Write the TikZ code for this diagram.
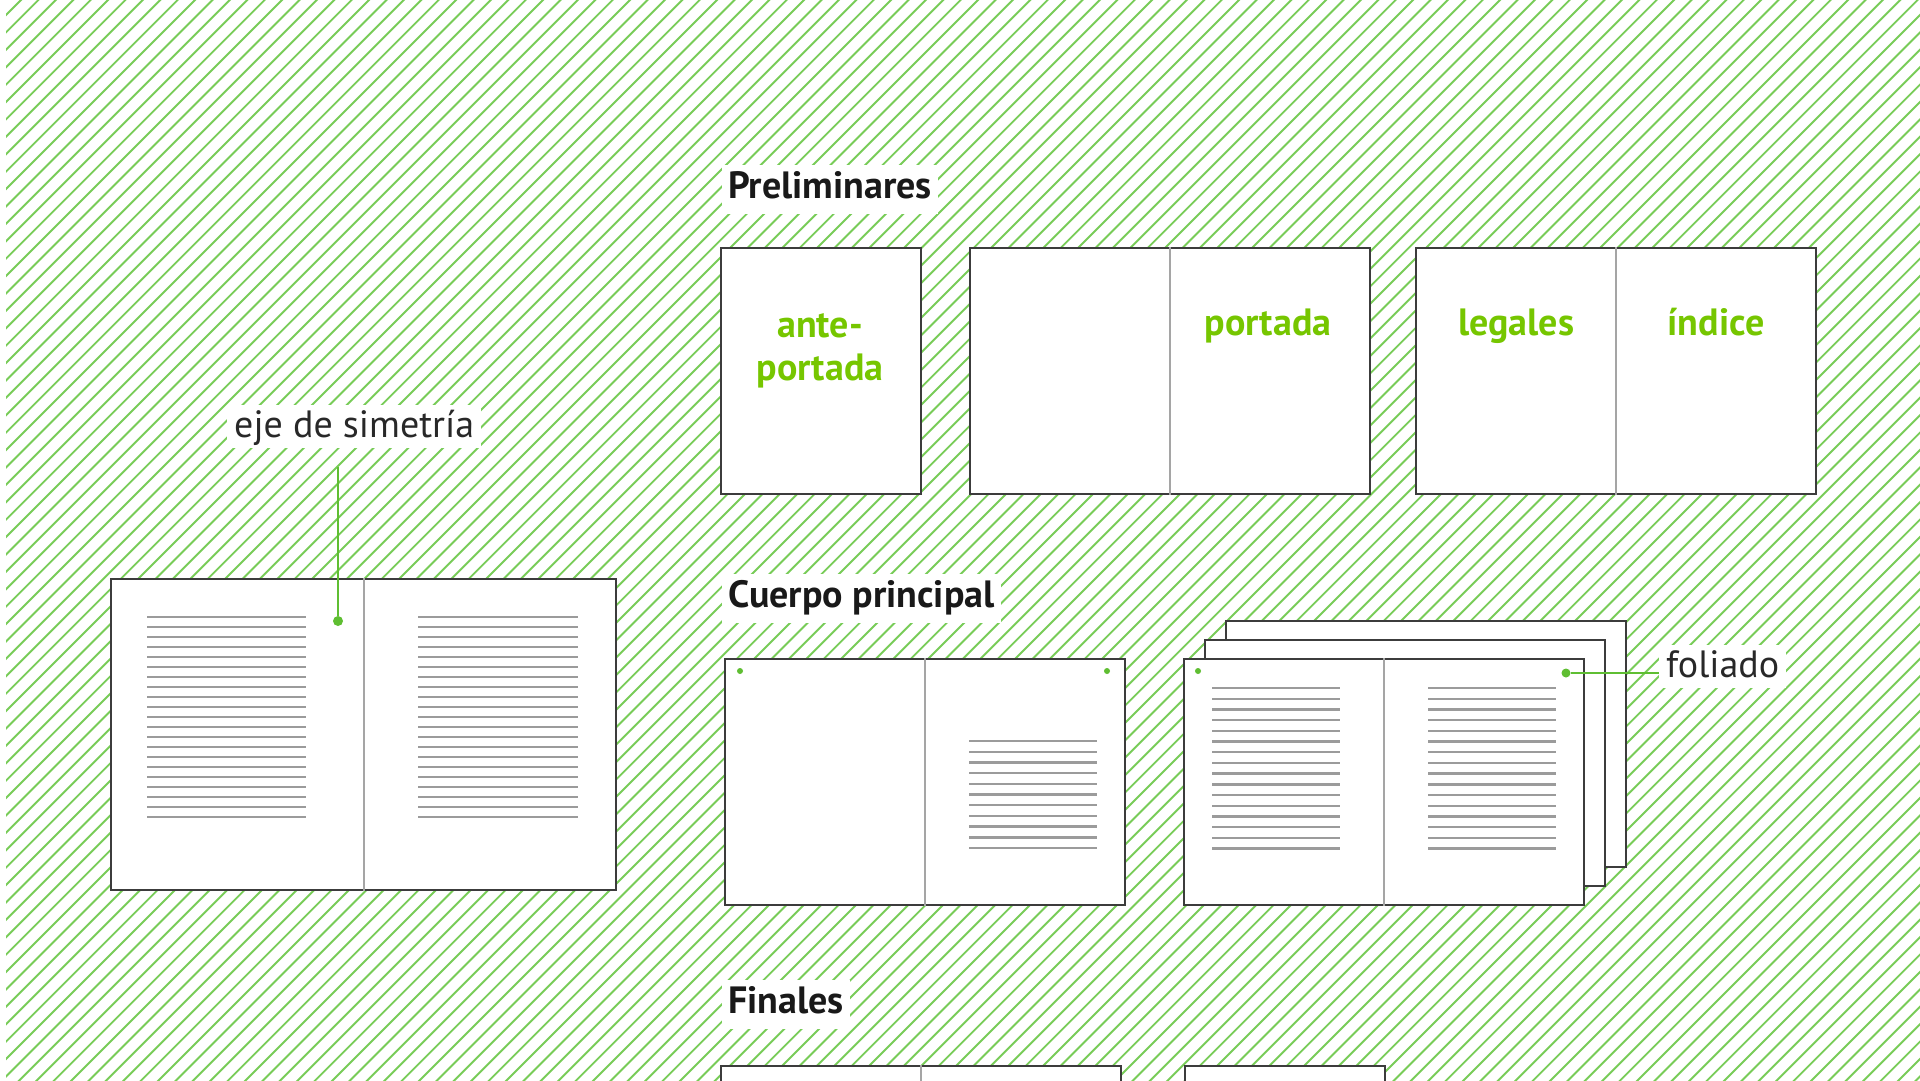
\documentclass[tikz,border=0pt]{standalone}
\usepackage{fontspec}
\setmainfont{PT Sans}
\definecolor{hatch}{RGB}{120,204,88}
\definecolor{lime}{RGB}{118,198,0}
\definecolor{leader}{RGB}{95,190,50}
\definecolor{border}{RGB}{60,60,60}
\definecolor{gutter}{RGB}{165,165,165}
\definecolor{textrule}{RGB}{155,155,155}
\definecolor{ink}{RGB}{25,25,25}
\definecolor{soft}{RGB}{40,40,40}
\begin{document}
\begin{tikzpicture}[x=1pt,y=-1pt,
  sheet/.style={draw=border, line width=2pt, fill=white, anchor=north west, inner sep=0pt, minimum width=#1, minimum height=246pt},
  gutterline/.style={draw=gutter, line width=2pt},
  ruleline/.style={draw=textrule, line width=2.4pt},
  hatchline/.style={draw=hatch, line width=1.9pt},
  leaderline/.style={draw=leader, line width=2pt},
  dotnode/.style={circle, fill=leader, inner sep=0pt, minimum size=#1},
  title/.style={fill=white, text=ink, font=\fontsize{38}{42}\selectfont\bfseries, anchor=base west, inner xsep=6pt, inner ysep=8pt, text height=25pt, text depth=8pt},
  note/.style={fill=white, text=soft, font=\fontsize{38}{42}\selectfont, anchor=base west, inner xsep=7pt, inner ysep=6pt, text height=26pt, text depth=5pt},
  greenlbl/.style={text=lime, font=\fontsize{38}{42}\selectfont\bfseries, anchor=base, inner sep=0pt}
]
\useasboundingbox (0,0) rectangle (1920,1080);
\clip (0,0) rectangle (1920,1080);
\fill[white] (0,0) rectangle (1920,1080);
% background hatch
\begin{scope}
  \clip (6,0) rectangle (1920,1080);
  \foreach \k in {-1,...,175} {
    \draw[hatchline] ({21+17.4*\k-1100},1100) -- ({21+17.4*\k+20},-20);
  }
\end{scope}

% ---------- Preliminares ----------
\node[title] (tprel) at (722,198) {Preliminares};
\node[sheet=200pt] (ante) at (720,247) {};
\node[greenlbl] (lante) at (820,337) {ante-};
\node[greenlbl] (lporta) at (820,380) {portada};

\node[sheet=400pt] (port) at (969,247) {};
\draw[gutterline] (port.north) -- (port.south);
\node[greenlbl] (lportada) at (1268,335) {portada};

\node[sheet=400pt] (legi) at (1415,247) {};
\draw[gutterline] (legi.north) -- (legi.south);
\node[greenlbl] (llegales) at (1516,335) {legales};
\node[greenlbl] (lindice) at (1716,335) {índice};

% ---------- big spread ----------
\node[sheet=505pt, minimum height=311pt] (big) at (110,578) {};
\draw[gutterline] (big.north) -- (big.south);
\foreach \i in {0,...,20} {
  \draw[ruleline] (147,{617+10*\i}) -- (306,{617+10*\i});
  \draw[ruleline] (418,{617+10*\i}) -- (578,{617+10*\i});
}
\node[note] (eje) at (227,437) {eje de simetría};
\coordinate (ejetop) at (338,467);
\node[dotnode=10pt] (ejedot) at (338,621) {};
\draw[leaderline] (ejetop) -- (ejedot);

% ---------- Cuerpo principal ----------
\node[title] (tcuerpo) at (722,607) {Cuerpo principal};
\node[sheet=400pt] (spa) at (724,658) {};
\draw[gutterline] (spa.north) -- (spa.south);
\foreach \i in {0,...,10} {
  \draw[ruleline] (969,{741+10.7*\i}) -- (1097,{741+10.7*\i});
}
\node[dotnode=6pt] (spadl) at (740,671) {};
\node[dotnode=6pt] (spadr) at (1107,671) {};

% stacked spreads
\node[sheet=400pt] (stc) at (1225,620) {};
\node[sheet=400pt] (stb) at (1204,639) {};
\node[sheet=400pt] (sta) at (1183,658) {};
\draw[gutterline] (sta.north) -- (sta.south);
\foreach \i in {0,...,15} {
  \draw[ruleline] (1212,{688+10.7*\i}) -- (1340,{688+10.7*\i});
  \draw[ruleline] (1428,{688+10.7*\i}) -- (1556,{688+10.7*\i});
}
\node[dotnode=6pt] (stadl) at (1198,671) {};
\node[dotnode=9pt] (foldot) at (1566,673) {};
\node[note] (foliado) at (1659,677) {foliado};
\draw[leaderline] (foldot) -- (foldot -| foliado.west);

% ---------- Finales ----------
\node[title] (tfin) at (722,1013) {Finales};
\node[sheet=400pt] (fina) at (720,1065) {};
\draw[gutterline] (fina.north) -- (fina.south);
\node[sheet=200pt] (finb) at (1184,1065) {};
\end{tikzpicture}
\end{document}
